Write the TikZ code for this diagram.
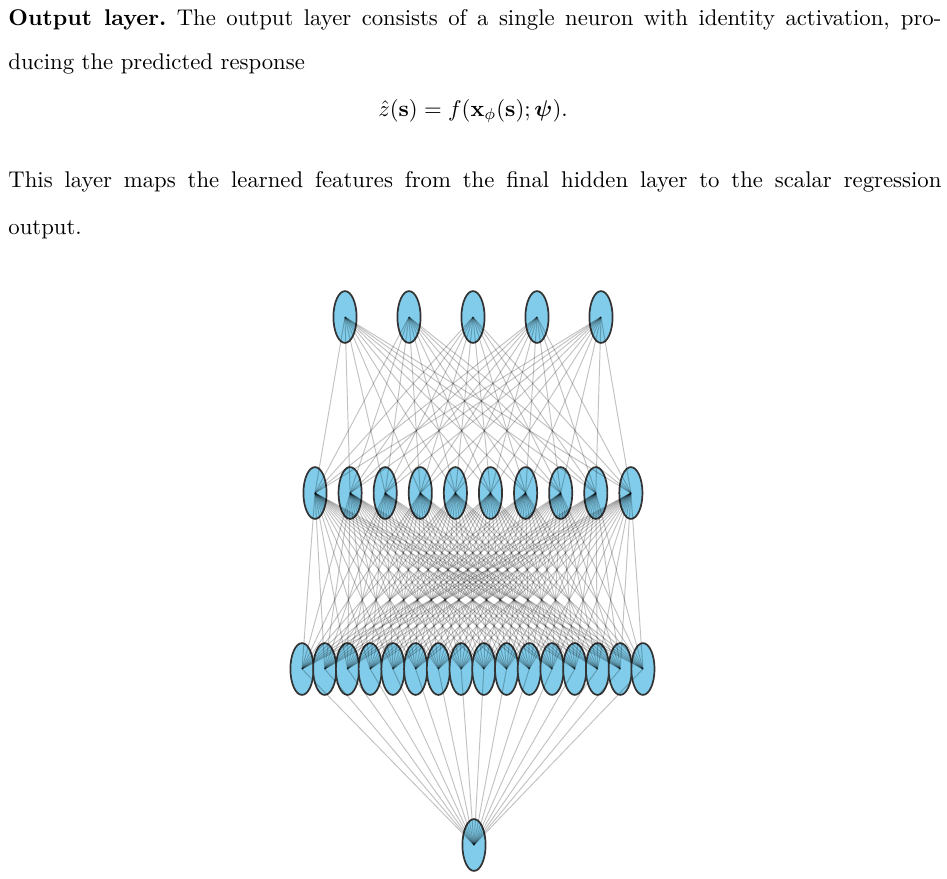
\documentclass[tikz,border=0pt]{standalone}
\usepackage{amsmath}
\usepackage{amssymb}
\usetikzlibrary{shapes.geometric}

\begin{document}
\begin{tikzpicture}[x=0.44pt, y=-0.44pt]

	\def\textw{410.5pt}
	\def\ya{317}
	\def\yb{493}
	\def\yc{669}
	\def\yd{845}
	\def\xmid{473}

	% Colours
	\definecolor{neuroncolor}{RGB}{128,204,234}
	\colorlet{bordercolor}{black!80}

	% Styles
	\tikzstyle{neuron}=[ellipse, fill=neuroncolor, draw=bordercolor, line width=0.75pt,
		minimum width=10.2pt, minimum height=22.8pt, inner sep=0pt]
	\tikzstyle{synapse}=[draw=black, opacity=0.24, line width=0.42pt]
	\tikzstyle{textline}=[anchor=base west, inner sep=0pt]

	\useasboundingbox (0,0) rectangle (947,879);

	% Text
	\node[textline] (line1) at (8,25) {\makebox[\textw][s]{\textbf{Output layer.}\ The output layer consists of a single neuron with identity activation, pro-}};
	\node[textline] (line2) at (8,69) {ducing the predicted response};
	\node[anchor=base, inner sep=0pt] (eq) at (\xmid,116) {$\hat{z}(\mathbf{s}) = f(\mathbf{x}_{\phi}(\mathbf{s}); \boldsymbol{\psi}).$};
	\node[textline] (line3) at (8,187) {\makebox[\textw][s]{This layer maps the learned features from the final hidden layer to the scalar regression}};
	\node[textline] (line4) at (8,234) {output.};

	% Neurons
	\foreach \i in {1,...,5}
		\node[neuron] (in\i) at ({345+64*(\i-1)}, \ya) {};
	\foreach \i in {1,...,10}
		\node[neuron] (ha\i) at ({315+35.1*(\i-1)}, \yb) {};
	\foreach \i in {1,...,16}
		\node[neuron] (hb\i) at ({302+22.73*(\i-1)}, \yc) {};
	\node[neuron] (out) at (474, \yd) {};

	% Connections
	\foreach \i in {1,...,5}
		\foreach \j in {1,...,10}
			\draw[synapse] (in\i.center) -- (ha\j.center);
	\foreach \i in {1,...,10}
		\foreach \j in {1,...,16}
			\draw[synapse] (ha\i.center) -- (hb\j.center);
	\foreach \j in {1,...,16}
		\draw[synapse] (hb\j.center) -- (out.center);

\end{tikzpicture}
\end{document}
